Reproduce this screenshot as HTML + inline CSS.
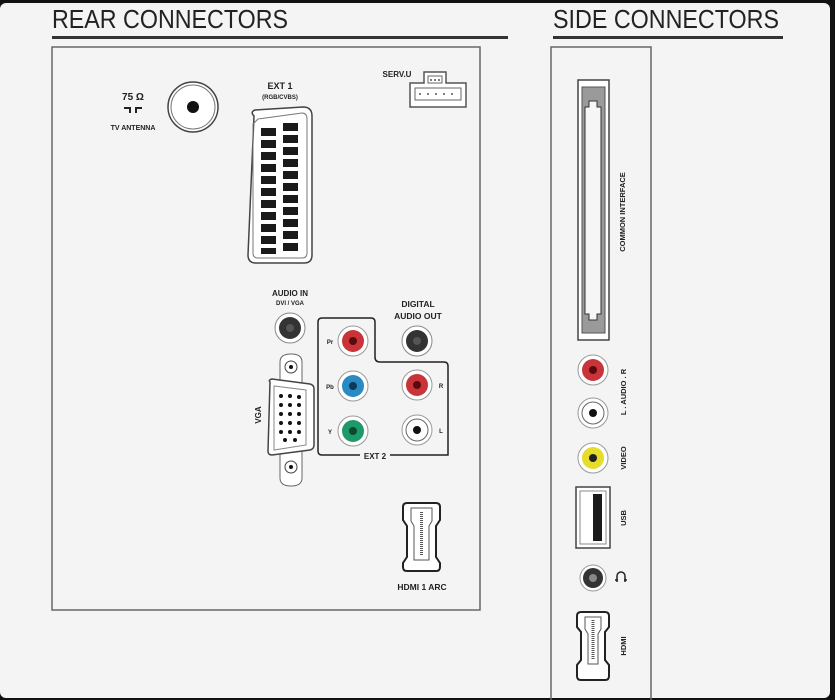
<!DOCTYPE html>
<html><head><meta charset="utf-8"><style>
html,body{margin:0;padding:0;background:#111;}
svg{display:block;}
text{font-family:"Liberation Sans",sans-serif;font-weight:bold;fill:#222;}
</style></head><body>
<svg width="835" height="700" viewBox="0 0 835 700" xmlns="http://www.w3.org/2000/svg">
<rect x="0" y="3" width="830" height="695" rx="6" fill="#f4f4f4"/>
<!-- headings -->
<text x="52" y="28" font-size="26" style="font-weight:normal" textLength="236" lengthAdjust="spacingAndGlyphs">REAR CONNECTORS</text>
<rect x="52" y="36" width="456" height="3" fill="#333"/>
<text x="553" y="28" font-size="26" style="font-weight:normal" textLength="226" lengthAdjust="spacingAndGlyphs">SIDE CONNECTORS</text>
<rect x="553" y="36" width="230" height="3" fill="#333"/>
<!-- boxes -->
<rect x="52" y="47" width="428" height="563" fill="none" stroke="#666" stroke-width="1.5"/>
<rect x="551" y="47" width="100" height="660" fill="none" stroke="#666" stroke-width="1.5"/>

<!-- antenna -->
<text x="133" y="100" font-size="10" text-anchor="middle">75 Ω</text>
<path d="M124 108h6v5M142 108h-6v5" stroke="#222" stroke-width="2" fill="none"/>
<text x="133" y="130" font-size="7" text-anchor="middle">TV ANTENNA</text>
<circle cx="193" cy="107" r="25" fill="#fff" stroke="#444" stroke-width="1.5"/>
<circle cx="193" cy="107" r="22" fill="none" stroke="#777" stroke-width="1"/>
<circle cx="193" cy="107" r="6" fill="#111"/>

<!-- EXT1 scart -->
<text x="280" y="89" font-size="9" text-anchor="middle">EXT 1</text>
<text x="280" y="99" font-size="6" text-anchor="middle">(RGB/CVBS)</text>
<path d="M254 116 Q250 112 255 110 L303 107 Q312 107 312 116 L312 255 Q312 263 304 263 L256 263 Q248 263 248 255 Z" fill="#fff" stroke="#444" stroke-width="1.5"/>
<path d="M258 119 L302 113 Q307 113 307 119 L307 253 Q307 258 302 258 L258 258 Q253 258 253 253 L253 124 Z" fill="none" stroke="#777" stroke-width="1"/>
<g fill="#1a1a1a">
<rect x="261" y="128" width="15" height="8"/><rect x="261" y="140" width="15" height="8"/><rect x="261" y="152" width="15" height="8"/><rect x="261" y="164" width="15" height="8"/><rect x="261" y="176" width="15" height="8"/><rect x="261" y="188" width="15" height="8"/><rect x="261" y="200" width="15" height="8"/><rect x="261" y="212" width="15" height="8"/><rect x="261" y="224" width="15" height="8"/><rect x="261" y="236" width="15" height="8"/>
<rect x="283" y="123" width="15" height="8"/><rect x="283" y="135" width="15" height="8"/><rect x="283" y="147" width="15" height="8"/><rect x="283" y="159" width="15" height="8"/><rect x="283" y="171" width="15" height="8"/><rect x="283" y="183" width="15" height="8"/><rect x="283" y="195" width="15" height="8"/><rect x="283" y="207" width="15" height="8"/><rect x="283" y="219" width="15" height="8"/><rect x="283" y="231" width="15" height="8"/><rect x="261" y="248" width="15" height="6"/><rect x="283" y="243" width="15" height="8"/>
</g>

<!-- SERV.U -->
<text x="397" y="77" font-size="8" text-anchor="middle">SERV.U</text>
<path d="M424 72h22v11h20v24h-56v-24h14z" fill="#fff" stroke="#555" stroke-width="1.5"/>
<rect x="428" y="76" width="14" height="7" fill="none" stroke="#666"/>
<rect x="415" y="88" width="46" height="12" fill="none" stroke="#666"/>
<g fill="#555"><circle cx="431" cy="80" r="1"/><circle cx="435" cy="80" r="1"/><circle cx="439" cy="80" r="1"/><circle cx="420" cy="94" r="1"/><circle cx="428" cy="94" r="1"/><circle cx="436" cy="94" r="1"/><circle cx="444" cy="94" r="1"/><circle cx="452" cy="94" r="1"/></g>

<!-- audio in -->
<text x="290" y="296" font-size="8" text-anchor="middle">AUDIO IN</text>
<text x="290" y="305" font-size="6" text-anchor="middle">DVI / VGA</text>
<circle cx="290" cy="328" r="15" fill="#fff" stroke="#888"/><circle cx="290" cy="328" r="11" fill="#333"/><circle cx="290" cy="328" r="4" fill="#555"/>
<text x="418" y="307" font-size="8.5" text-anchor="middle">DIGITAL</text>
<text x="418" y="319" font-size="8.5" text-anchor="middle">AUDIO OUT</text>
<circle cx="417" cy="341" r="15" fill="#fff" stroke="#888"/><circle cx="417" cy="341" r="11" fill="#333"/><circle cx="417" cy="341" r="4" fill="#555"/>

<!-- EXT2 -->
<path d="M362 455H448V366Q448 362 444 362H380Q375 362 375 357V322Q375 318 371 318H322Q318 318 318 322V451Q318 455 322 455H388" fill="none" stroke="#222" stroke-width="1.5"/>
<rect x="360" y="449" width="30" height="12" fill="#f4f4f4"/>
<text x="375" y="459" font-size="8" text-anchor="middle">EXT 2</text>
<g font-size="6">
<text x="330" y="344" text-anchor="middle">Pr</text><text x="330" y="389" text-anchor="middle">Pb</text><text x="330" y="434" text-anchor="middle">Y</text>
<text x="441" y="388" text-anchor="middle">R</text><text x="441" y="433" text-anchor="middle">L</text></g>
<circle cx="353" cy="341" r="15" fill="#fff" stroke="#999"/><circle cx="353" cy="341" r="11" fill="#c8343a"/><circle cx="353" cy="341" r="4" fill="#5a0a0c"/>
<circle cx="353" cy="386" r="15" fill="#fff" stroke="#999"/><circle cx="353" cy="386" r="11" fill="#2a8ac4"/><circle cx="353" cy="386" r="4" fill="#0b3a5a"/>
<circle cx="353" cy="431" r="15" fill="#fff" stroke="#999"/><circle cx="353" cy="431" r="11" fill="#1e9a6a"/><circle cx="353" cy="431" r="4" fill="#0a4a30"/>
<circle cx="417" cy="385" r="15" fill="#fff" stroke="#999"/><circle cx="417" cy="385" r="11" fill="#c8343a"/><circle cx="417" cy="385" r="4" fill="#5a0a0c"/>
<circle cx="417" cy="430" r="15" fill="#fff" stroke="#999"/><circle cx="417" cy="430" r="11" fill="#fff" stroke="#666"/><circle cx="417" cy="430" r="4" fill="#111"/>

<!-- VGA -->
<text transform="translate(261,415) rotate(-90)" font-size="8" text-anchor="middle">VGA</text>
<path d="M280 362Q280 354 291 354Q302 354 302 362V478Q302 486 291 486Q280 486 280 478Z" fill="#fff" stroke="#666"/>
<circle cx="291" cy="367" r="6" fill="#fff" stroke="#444"/><circle cx="291" cy="367" r="2" fill="#111"/>
<circle cx="291" cy="467" r="6" fill="#fff" stroke="#444"/><circle cx="291" cy="467" r="2" fill="#111"/>
<path d="M270 382Q268 380 272 379L310 384Q314 385 314 389V445Q314 449 310 450L272 455Q268 455 268 451Z" fill="#fff" stroke="#444" stroke-width="1.5"/>
<path d="M274 386L306 390V445L274 450Z" fill="none" stroke="#888"/>
<g fill="#111">
<circle cx="281" cy="396" r="2"/><circle cx="290" cy="396" r="2"/><circle cx="299" cy="397" r="2"/>
<circle cx="281" cy="405" r="2"/><circle cx="290" cy="405" r="2"/><circle cx="299" cy="405" r="2"/>
<circle cx="281" cy="414" r="2"/><circle cx="290" cy="414" r="2"/><circle cx="299" cy="414" r="2"/>
<circle cx="281" cy="423" r="2"/><circle cx="290" cy="423" r="2"/><circle cx="299" cy="423" r="2"/>
<circle cx="281" cy="432" r="2"/><circle cx="290" cy="432" r="2"/><circle cx="299" cy="432" r="2"/>
<circle cx="285" cy="440" r="2"/><circle cx="295" cy="440" r="2"/></g>

<!-- HDMI 1 -->
<path d="M407 503H436Q440 503 440 507V520L436 526V557L440 563V567Q440 571 436 571H407Q403 571 403 567V563L407 557V526L403 520V507Q403 503 407 503Z" fill="#fff" stroke="#222" stroke-width="2"/>
<path d="M411 508H432V521L429 526V560H414V526L411 521Z" fill="none" stroke="#555"/>
<line x1="421.5" y1="512" x2="421.5" y2="556" stroke="#555" stroke-width="3" stroke-dasharray="1 1"/>
<text x="422" y="590" font-size="8.5" text-anchor="middle">HDMI 1 ARC</text>

<!-- side: common interface -->
<rect x="578" y="80" width="31" height="260" fill="#fff" stroke="#444" stroke-width="1.5"/>
<rect x="582" y="87" width="23" height="246" fill="#9a9a9a" stroke="#555" stroke-width="1"/>
<path d="M589 101h8v6h4v207h-4v6h-8v-6h-4V107h4z" fill="#f6f6f6" stroke="#333"/>
<text transform="translate(625,212) rotate(-90)" font-size="7.5" text-anchor="middle">COMMON INTERFACE</text>
<circle cx="593" cy="370" r="15" fill="#fff" stroke="#999"/><circle cx="593" cy="370" r="11" fill="#c8343a"/><circle cx="593" cy="370" r="4" fill="#5a0a0c"/>
<circle cx="593" cy="413" r="15" fill="#fff" stroke="#999"/><circle cx="593" cy="413" r="11" fill="#fff" stroke="#666"/><circle cx="593" cy="413" r="4" fill="#111"/>
<circle cx="593" cy="458" r="15" fill="#fff" stroke="#999"/><circle cx="593" cy="458" r="11" fill="#e6dc2a"/><circle cx="593" cy="458" r="4" fill="#222"/>
<text transform="translate(626,392) rotate(-90)" font-size="7.5" text-anchor="middle">L . AUDIO . R</text>
<text transform="translate(626,458) rotate(-90)" font-size="7.5" text-anchor="middle">VIDEO</text>
<rect x="576" y="487" width="34" height="61" fill="#fff" stroke="#444" stroke-width="1.5"/>
<rect x="580" y="491" width="26" height="53" fill="none" stroke="#888"/>
<rect x="593" y="494" width="9" height="47" fill="#1a1a1a"/>
<text transform="translate(626,518) rotate(-90)" font-size="7.5" text-anchor="middle">USB</text>
<circle cx="593" cy="578" r="13" fill="#fff" stroke="#999"/><circle cx="593" cy="578" r="10" fill="#333"/><circle cx="593" cy="578" r="4" fill="#888"/>
<path d="M617 582v-6a4 4 0 0 1 8 0v6M615 580h3M624 580h3" fill="none" stroke="#222" stroke-width="1.5"/>
<path d="M581 612H605Q609 612 609 616V627L605 632V660L609 665V676Q609 680 605 680H581Q577 680 577 676V665L581 660V632L577 627V616Q577 612 581 612Z" fill="#fff" stroke="#222" stroke-width="2"/>
<path d="M585 617H601V629L598 634V664H588V634L585 629Z" fill="none" stroke="#555"/>
<line x1="593" y1="620" x2="593" y2="660" stroke="#555" stroke-width="3" stroke-dasharray="1 1"/>
<text transform="translate(626,646) rotate(-90)" font-size="7.5" text-anchor="middle">HDMI</text>
</svg>
</body></html>
